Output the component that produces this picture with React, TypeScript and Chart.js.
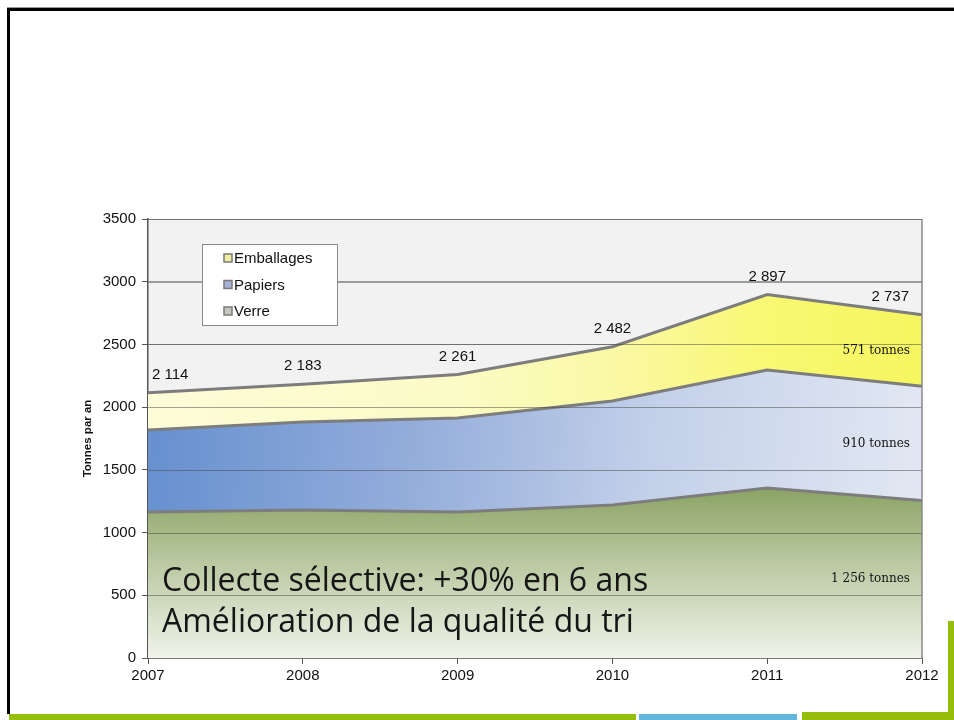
import { useEffect, useRef } from "react";
import { Chart, registerables } from "chart.js";

Chart.register(...registerables);

// ---- data ----
const years = ["2007", "2008", "2009", "2010", "2011", "2012"];
const verre = [1165, 1180, 1165, 1220, 1355, 1256];
const papiers = [653, 702, 748, 829, 941, 910];
const emballages = [296, 301, 348, 433, 601, 571];
const totals = [2114, 2183, 2261, 2482, 2897, 2737];
const seriesNames = ["Verre", "Papiers", "Emballages"];
const segmentLabels = ["1 256 tonnes", "910 tonnes", "571 tonnes"];
const yMin = 0;
const yMax = 3500;
const yStep = 500;
const yTitle = "Tonnes par an";
const noteLines = ["Collecte sélective: +30% en 6 ans", "Amélioration de la qualité du tri"];

const fmt = (v: number) =>
  v >= 1000 ? `${Math.floor(v / 1000)} ${String(v % 1000).padStart(3, "0")}` : String(v);

const LINE = "#7d7d7d";

function verreFill(ctx: any) {
  const chart = ctx.chart;
  const area = chart.chartArea;
  if (!area) return "#b5c497";
  const y = chart.scales.y;
  const g = chart.ctx.createLinearGradient(0, y.getPixelForValue(1400), 0, area.bottom);
  g.addColorStop(0, "#87a05f");
  g.addColorStop(0.45, "#b9c8a0");
  g.addColorStop(1, "#f0f3ea");
  return g;
}
function papiersFill(ctx: any) {
  const chart = ctx.chart;
  const area = chart.chartArea;
  if (!area) return "#a9bde0";
  const y = chart.scales.y;
  const g = chart.ctx.createLinearGradient(area.left, y.getPixelForValue(1900), area.right, y.getPixelForValue(1500));
  g.addColorStop(0, "#6690cf");
  g.addColorStop(0.35, "#95aedb");
  g.addColorStop(0.65, "#c3d0e9");
  g.addColorStop(1, "#e2e8f3");
  return g;
}
function emballagesFill(ctx: any) {
  const chart = ctx.chart;
  const area = chart.chartArea;
  if (!area) return "#f9f9a0";
  const g = chart.ctx.createLinearGradient(area.left, 0, area.right, 0);
  g.addColorStop(0, "#fcfcd8");
  g.addColorStop(0.4, "#fbfbc6");
  g.addColorStop(0.62, "#faf8a0");
  g.addColorStop(0.8, "#f8f872");
  g.addColorStop(1, "#f6f660");
  return g;
}

const legendSwatches: Record<string, string> = {
  Emballages: "#eeeea0",
  Papiers: "#a6b2d6",
  Verre: "#c6c8bc",
};

const overlay = {
  id: "overlay",
  beforeDraw(chart: any) {
    const { ctx, chartArea: a } = chart;
    ctx.save();
    ctx.fillStyle = "#f2f2f2";
    ctx.fillRect(a.left, a.top, a.right - a.left, a.bottom - a.top);
    ctx.restore();
  },
  afterDatasetsDraw(chart: any) {
    // horizontal gridlines drawn over the filled areas
    const { ctx, chartArea: a, scales } = chart;
    const ys = scales.y;
    ctx.save();
    ctx.strokeStyle = "rgba(70,70,70,0.5)";
    ctx.lineWidth = 1;
    for (let v = yMin + yStep; v <= yMax; v += yStep) {
      const y = Math.round(ys.getPixelForValue(v)) + 0.5;
      ctx.beginPath();
      ctx.moveTo(a.left, y);
      ctx.lineTo(a.right, y);
      ctx.stroke();
    }
    ctx.restore();
  },
  afterDraw(chart: any) {
    const { ctx, chartArea: a, scales } = chart;
    const xs = scales.x;
    const ys = scales.y;
    ctx.save();

    // right border of plot
    ctx.strokeStyle = "#8a8a8a";
    ctx.lineWidth = 1.5;
    ctx.beginPath();
    ctx.moveTo(a.right, a.top);
    ctx.lineTo(a.right, a.bottom);
    ctx.stroke();

    // total labels
    ctx.font = "15px 'Liberation Sans', Arial, sans-serif";
    ctx.fillStyle = "#111";
    ctx.textAlign = "center";
    ctx.textBaseline = "middle";
    totals.forEach((v, i) => {
      const t = fmt(v);
      const w = ctx.measureText(t).width;
      let x = xs.getPixelForValue(i);
      x = Math.max(a.left + 4 + w / 2, Math.min(a.right - 13 - w / 2, x));
      const y = ys.getPixelForValue(v) - 18;
      ctx.fillText(t, x, y);
    });

    // segment labels at last point
    const last = years.length - 1;
    const stacks = [verre, papiers, emballages];
    let base = 0;
    ctx.font = "12px 'DejaVu Serif', serif";
    ctx.textAlign = "right";
    stacks.forEach((s, k) => {
      const lo = base;
      const hi = base + s[last];
      base = hi;
      const y = ys.getPixelForValue((lo + hi) / 2);
      ctx.fillText(segmentLabels[k], a.right - 12, y);
    });

    // legend box
    const lx = 202, ly = 244, lw = 135, lh = 81;
    ctx.fillStyle = "#ffffff";
    ctx.fillRect(lx, ly, lw, lh);
    ctx.strokeStyle = "#8a8a8a";
    ctx.lineWidth = 1;
    ctx.strokeRect(lx + 0.5, ly + 0.5, lw, lh);
    ctx.font = "15px 'Liberation Sans', Arial, sans-serif";
    ctx.textAlign = "left";
    const order = [...seriesNames].reverse();
    order.forEach((name, i) => {
      const cy = ly + 14 + i * 26.5;
      ctx.fillStyle = legendSwatches[name];
      ctx.fillRect(lx + 22, cy - 4, 8, 8);
      ctx.strokeStyle = "#7a7a7a";
      ctx.lineWidth = 1.5;
      ctx.strokeRect(lx + 22, cy - 4, 8, 8);
      ctx.fillStyle = "#111";
      ctx.fillText(name, lx + 32, cy + 1);
    });

    // y title
    ctx.save();
    ctx.translate(88, (a.top + a.bottom) / 2);
    ctx.rotate(-Math.PI / 2);
    ctx.font = "bold 11.5px 'Liberation Sans', Arial, sans-serif";
    ctx.textAlign = "center";
    ctx.fillStyle = "#111";
    ctx.fillText(yTitle, 0, 0);
    ctx.restore();

    // note text
    ctx.font = "32px 'Open Sans', Lato, sans-serif";
    ctx.textAlign = "left";
    ctx.textBaseline = "alphabetic";
    ctx.fillStyle = "#161616";
    noteLines.forEach((line, i) => ctx.fillText(line, 162, 591 + i * 41));

    // slide frame
    ctx.fillStyle = "#9a9a9a";
    ctx.fillRect(7, 7, 947, 1);
    ctx.fillStyle = "#000";
    ctx.fillRect(7, 8, 947, 3);
    ctx.fillRect(7, 8, 3, 706);
    ctx.fillStyle = "#96be0d";
    ctx.fillRect(9, 714, 627, 6);
    ctx.fillRect(802, 712, 152, 8);
    ctx.fillRect(948, 621, 6, 99);
    ctx.fillStyle = "#64b6dd";
    ctx.fillRect(639, 714, 158, 6);

    ctx.restore();
  },
};

export default function App() {
  const ref = useRef<HTMLCanvasElement | null>(null);
  useEffect(() => {
    document.body.style.margin = "0";
    const canvas = ref.current!;
    const ds = (label: string, data: number[], fill: any, bg: any) => ({
      label,
      data,
      fill,
      backgroundColor: bg,
      borderColor: LINE,
      borderWidth: 3,
      pointRadius: 0,
      tension: 0,
    });
    const chart = new Chart(canvas, {
      type: "line",
      data: {
        labels: years,
        datasets: [
          ds(seriesNames[0], verre, "origin", verreFill),
          ds(seriesNames[1], papiers, "-1", papiersFill),
          ds(seriesNames[2], emballages, "-1", emballagesFill),
        ],
      },
      options: {
        responsive: false,
        animation: false,
        devicePixelRatio: 1,
        layout: { padding: { top: 219, right: 32, left: 0, bottom: 0 } },
        plugins: {
          legend: { display: false },
          tooltip: { enabled: false },
          filler: { propagate: false },
        },
        scales: {
          x: {
            type: "category",
            offset: false,
            grid: {
              drawOnChartArea: false,
              drawTicks: true,
              tickLength: 6,
              color: "#555",
              offset: false,
            },
            border: { display: true, color: "#555", width: 1.5 },
            ticks: {
              font: { size: 15, family: "'Liberation Sans', Arial, sans-serif" },
              color: "#111",
              padding: 3,
              maxRotation: 0,
              autoSkip: false,
            },
            afterFit: (s: any) => {
              s.height = 62;
            },
          },
          y: {
            stacked: true,
            min: yMin,
            max: yMax,
            ticks: {
              stepSize: yStep,
              font: { size: 15, family: "'Liberation Sans', Arial, sans-serif" },
              color: "#111",
              padding: 6,
              callback: (v: any) => String(v),
            },
            grid: {
              color: "rgba(70,70,70,0.5)",
              lineWidth: 1,
              tickLength: 6,
              tickColor: "#555",
            },
            border: { display: true, color: "#555", width: 1.5 },
            afterFit: (s: any) => {
              s.width = 148;
            },
          },
        },
      },
      plugins: [overlay],
    });
    return () => chart.destroy();
  }, []);
  return (
    <div style={{ position: "fixed", left: 0, top: 0, width: 954, height: 720, background: "#fff" }}>
      <canvas ref={ref} width={954} height={720} style={{ display: "block", width: 954, height: 720 }} />
    </div>
  );
}
